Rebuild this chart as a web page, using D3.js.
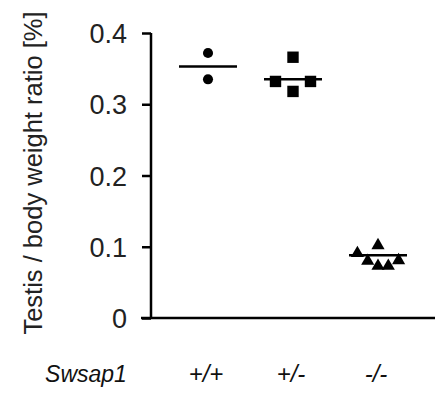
<!DOCTYPE html>
<html><head><meta charset="utf-8">
<script src="https://cdn.jsdelivr.net/npm/d3@7"></script>
<style>body{margin:0;background:#fff;} svg{display:block;font-family:"Liberation Sans",Arial,Helvetica,sans-serif;}</style>
</head><body><svg id="c" width="445" height="394"></svg>
<script>
// Data
const categories = ["+/+", "+/-", "-/-"];
const geneLabel = "Swsap1";
const yLabel = "Testis / body weight ratio [%]";
const yTicks = [0, 0.1, 0.2, 0.3, 0.4];
const wtValues = [0.372, 0.335];
const hetValues = [0.366, 0.332, 0.332, 0.318];
const koValues = [0.093, 0.104, 0.082, 0.075, 0.075, 0.083];
const means = [0.353, 0.335, 0.088];
// scatter column (jitter) index for each point
const wtCols = [0, 0];
const hetCols = [0, -1, 1, 0];
const koCols = [-2, 0, -1, 0, 1, 2];

const svg = d3.select("#c");
const y = d3.scaleLinear().domain([0, 0.4]).range([318, 33]);
const x = d3.scalePoint().domain(categories).range([208, 378]);
const axisX = 151;

// y axis
const yAxis = svg.append("g").attr("transform", `translate(${axisX},0)`)
  .call(d3.axisLeft(y).tickValues(yTicks).tickSize(9).tickPadding(15)
    .tickFormat(d => d === 0 ? "0" : d3.format(".1f")(d)));
yAxis.select(".domain").attr("d", `M0,${y(0.4)}V${y(0)}`).attr("stroke", "#000").attr("stroke-width", 2.5);
yAxis.selectAll(".tick line").attr("stroke", "#000").attr("stroke-width", 2.5);
yAxis.selectAll(".tick text").attr("font-size", 27).attr("fill", "#222")
  .attr("font-family", '"Liberation Sans",Arial,sans-serif').attr("dy", "0.36em");

// x axis line
svg.append("line").attr("x1", 141).attr("x2", 435).attr("y1", y(0)).attr("y2", y(0))
  .attr("stroke", "#000").attr("stroke-width", 2.5);

// y label
svg.append("text").attr("transform", `translate(42,173) rotate(-90)`)
  .attr("text-anchor", "middle").attr("font-size", 25.5).attr("fill", "#222").text(yLabel);

// groups
const groups = [
  {cat: categories[0], vals: wtValues, cols: wtCols, sym: d3.symbolCircle, size: 80, step: 17, half: 29},
  {cat: categories[1], vals: hetValues, cols: hetCols, sym: d3.symbolSquare, size: 130, step: 17.5, half: 29},
  {cat: categories[2], vals: koValues, cols: koCols, sym: d3.symbolTriangle, size: 75, step: 10.3, half: 29}
];
groups.forEach((g, gi) => {
  const cx = x(g.cat);
  svg.append("line").attr("x1", cx - g.half).attr("x2", cx + g.half)
    .attr("y1", y(means[gi])).attr("y2", y(means[gi]))
    .attr("stroke", "#000").attr("stroke-width", 2.5);
  svg.selectAll(null).data(g.vals).enter().append("path")
    .attr("d", d3.symbol().type(g.sym).size(g.size))
    .attr("transform", (d, i) => `translate(${cx + g.cols[i] * g.step},${y(d) + (g.sym === d3.symbolTriangle ? 1.5 : 0)})`)
    .attr("fill", "#000");
});

// bottom labels
svg.append("text").attr("x", 86).attr("y", 382).attr("text-anchor", "middle")
  .attr("font-size", 23).attr("font-style", "italic").attr("fill", "#111").text(geneLabel);
svg.selectAll(null).data(categories).enter().append("text")
  .attr("x", d => x(d) - 2).attr("y", 382).attr("text-anchor", "middle")
  .attr("font-size", 24).attr("font-style", "italic").attr("fill", "#111").text(d => d);
</script></body></html>
